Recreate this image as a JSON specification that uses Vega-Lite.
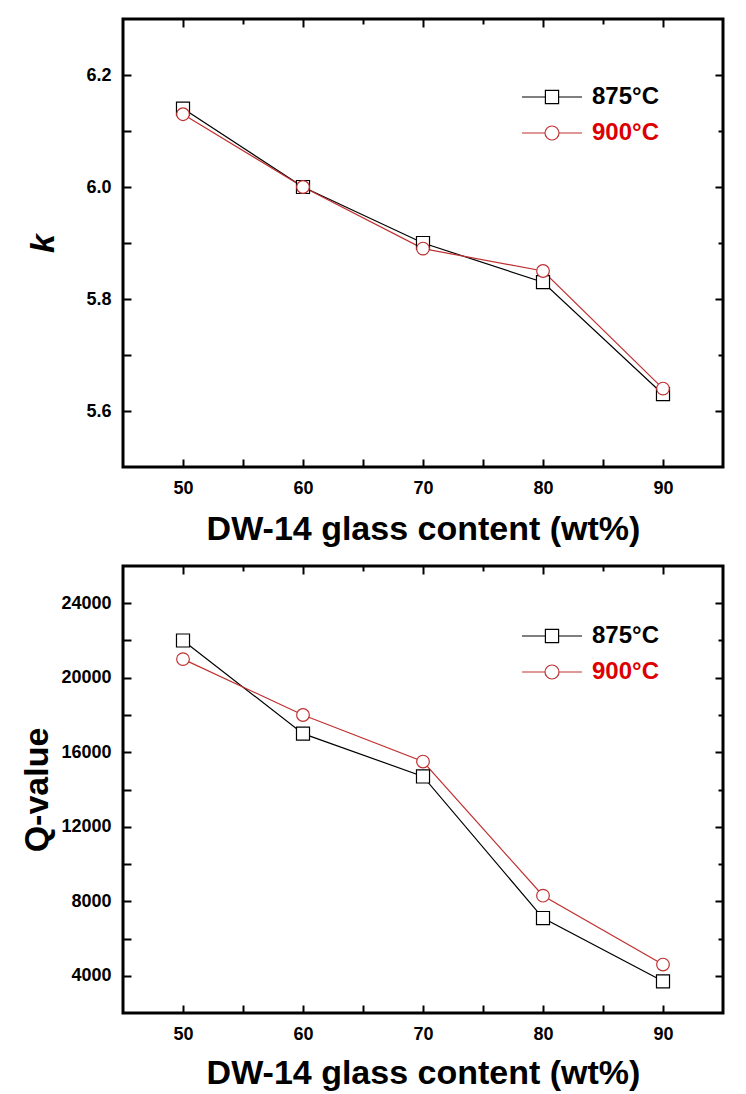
{
  "$schema": "https://vega.github.io/schema/vega-lite/v6.json",
  "padding": {"left": 19, "top": 16, "right": 20, "bottom": 5},
  "spacing": 15,
  "resolve": {"scale": {"color": "independent"}, "legend": {"color": "independent"}},
  "config": {
    "view": {"stroke": "black", "strokeWidth": 3},
    "font": "Liberation Sans",
    "axis": {
      "grid": false,
      "domain": false,
      "labelFont": "Liberation Sans",
      "labelFontWeight": "bold",
      "labelFontSize": 18,
      "labelColor": "black",
      "tickColor": "black",
      "tickWidth": 2,
      "titleFont": "Liberation Sans",
      "titleFontWeight": "bold",
      "titleFontSize": 34,
      "titleColor": "black"
    },
    "legend": {
      "orient": "none",
      "title": null,
      "padding": 0,
      "symbolSize": 1600,
      "symbolStrokeWidth": 1.2,
      "labelFont": "Liberation Sans",
      "labelFontWeight": "bold",
      "labelFontSize": 24,
      "labelOffset": 19,
      "rowPadding": 3
    }
  },
  "datasets": {
    "kdata": [
      {"content": 50, "series": "875°C", "k": 6.14},
      {"content": 60, "series": "875°C", "k": 6.00},
      {"content": 70, "series": "875°C", "k": 5.90},
      {"content": 80, "series": "875°C", "k": 5.83},
      {"content": 90, "series": "875°C", "k": 5.63},
      {"content": 50, "series": "900°C", "k": 6.13},
      {"content": 60, "series": "900°C", "k": 6.00},
      {"content": 70, "series": "900°C", "k": 5.89},
      {"content": 80, "series": "900°C", "k": 5.85},
      {"content": 90, "series": "900°C", "k": 5.64}
    ],
    "qdata": [
      {"content": 50, "series": "875°C", "q": 22000},
      {"content": 60, "series": "875°C", "q": 17000},
      {"content": 70, "series": "875°C", "q": 14700},
      {"content": 80, "series": "875°C", "q": 7100},
      {"content": 90, "series": "875°C", "q": 3700},
      {"content": 50, "series": "900°C", "q": 21000},
      {"content": 60, "series": "900°C", "q": 18000},
      {"content": 70, "series": "900°C", "q": 15500},
      {"content": 80, "series": "900°C", "q": 8300},
      {"content": 90, "series": "900°C", "q": 4600}
    ]
  },
  "vconcat": [
    {
      "width": 600,
      "height": 448,
      "data": {"name": "kdata"},
      "layer": [
        {
          "mark": {"type": "line", "strokeWidth": 1.2},
          "encoding": {
            "x": {"field": "content", "type": "quantitative",
                  "scale": {"domain": [45, 95], "nice": false, "zero": false},
                  "axis": {"orient": "bottom", "title": "DW-14 glass content (wt%)",
                           "values": [50, 55, 60, 65, 70, 75, 80, 85, 90],
                           "labelExpr": "datum.value % 10 === 0 ? datum.label : ''",
                           "tickSize": -8, "labelPadding": 20, "titlePadding": 15}},
            "y": {"field": "k", "type": "quantitative",
                  "scale": {"domain": [5.5, 6.3], "nice": false, "zero": false},
                  "axis": {"orient": "left", "title": "k", "titleFontStyle": "italic",
                           "values": [5.6, 5.7, 5.8, 5.9, 6.0, 6.1, 6.2],
                           "format": ".1f",
                           "labelExpr": "round(datum.value * 10) % 2 === 0 ? datum.label : ''",
                           "tickSize": -8, "labelPadding": 20, "titlePadding": 25}},
            "color": {"field": "series", "type": "nominal",
                      "scale": {"domain": ["875°C", "900°C"], "range": ["#000000", "#c03030"]},
                      "legend": {
                        "legendX": 408, "legendY": 57,
                        "encoding": {
                          "symbols": {
                            "shape": {"condition": {"test": "datum.value === '875°C'", "value": "M-1.5,0H-0.33M0.33,0H1.5M-0.33,-0.33H0.33V0.33H-0.33Z"},
                                      "value": "M-1.5,0H-0.35M0.35,0H1.5M-0.35,0A0.35,0.35 0 1,0 0.35,0A0.35,0.35 0 1,0 -0.35,0Z"},
                            "fill": {"value": "white"},
                            "fillOpacity": {"value": 1}
                          },
                          "labels": {
                            "fill": {"condition": {"test": "datum.value === '900°C'", "value": "#dd0000"}, "value": "#000000"}
                          }
                        }
                      }}
          }
        },
        {
          "transform": [{"filter": "datum.series === '875°C'"}],
          "mark": {"type": "point", "shape": "square", "fill": "white", "filled": false, "fillOpacity": 1, "opacity": 1, "stroke": "#000000", "strokeWidth": 1.2, "size": 170},
          "encoding": {
            "x": {"field": "content", "type": "quantitative", "axis": null},
            "y": {"field": "k", "type": "quantitative", "axis": null}
          }
        },
        {
          "transform": [{"filter": "datum.series === '900°C'"}],
          "mark": {"type": "point", "shape": "circle", "fill": "white", "filled": false, "fillOpacity": 1, "opacity": 1, "stroke": "#c03030", "strokeWidth": 1.2, "size": 160},
          "encoding": {
            "x": {"field": "content", "type": "quantitative", "axis": null},
            "y": {"field": "k", "type": "quantitative", "axis": null}
          }
        },
        {
          "mark": {"type": "point", "opacity": 0},
          "encoding": {
            "x": {"field": "content", "type": "quantitative",
                  "axis": {"orient": "top", "title": null, "labels": false,
                           "values": [50, 55, 60, 65, 70, 75, 80, 85, 90],
                           "tickSize": {"condition": {"test": "datum.value % 10 === 0", "value": -8}, "value": -5}}},
            "y": {"field": "k", "type": "quantitative",
                  "axis": {"orient": "right", "title": null, "labels": false,
                           "values": [5.6, 5.7, 5.8, 5.9, 6.0, 6.1, 6.2],
                           "tickSize": {"condition": {"test": "round(datum.value * 10) % 2 === 0", "value": -8}, "value": -5}}}
          }
        }
      ],
      "resolve": {"axis": {"x": "independent", "y": "independent"}}
    },
    {
      "width": 600,
      "height": 447,
      "data": {"name": "qdata"},
      "layer": [
        {
          "mark": {"type": "line", "strokeWidth": 1.2},
          "encoding": {
            "x": {"field": "content", "type": "quantitative",
                  "scale": {"domain": [45, 95], "nice": false, "zero": false},
                  "axis": {"orient": "bottom", "title": "DW-14 glass content (wt%)",
                           "values": [50, 55, 60, 65, 70, 75, 80, 85, 90],
                           "labelExpr": "datum.value % 10 === 0 ? datum.label : ''",
                           "tickSize": -8, "labelPadding": 20, "titlePadding": 13}},
            "y": {"field": "q", "type": "quantitative",
                  "scale": {"domain": [2000, 26000], "nice": false, "zero": false},
                  "axis": {"orient": "left", "title": "Q-value",
                           "values": [4000, 6000, 8000, 10000, 12000, 14000, 16000, 18000, 20000, 22000, 24000],
                           "format": "d",
                           "labelExpr": "datum.value % 4000 === 0 ? datum.label : ''",
                           "tickSize": -8, "labelPadding": 20, "titlePadding": 6}},
            "color": {"field": "series", "type": "nominal",
                      "scale": {"domain": ["875°C", "900°C"], "range": ["#000000", "#c03030"]},
                      "legend": {
                        "legendX": 408, "legendY": 49,
                        "encoding": {
                          "symbols": {
                            "shape": {"condition": {"test": "datum.value === '875°C'", "value": "M-1.5,0H-0.33M0.33,0H1.5M-0.33,-0.33H0.33V0.33H-0.33Z"},
                                      "value": "M-1.5,0H-0.35M0.35,0H1.5M-0.35,0A0.35,0.35 0 1,0 0.35,0A0.35,0.35 0 1,0 -0.35,0Z"},
                            "fill": {"value": "white"},
                            "fillOpacity": {"value": 1}
                          },
                          "labels": {
                            "fill": {"condition": {"test": "datum.value === '900°C'", "value": "#dd0000"}, "value": "#000000"}
                          }
                        }
                      }}
          }
        },
        {
          "transform": [{"filter": "datum.series === '875°C'"}],
          "mark": {"type": "point", "shape": "square", "fill": "white", "filled": false, "fillOpacity": 1, "opacity": 1, "stroke": "#000000", "strokeWidth": 1.2, "size": 170},
          "encoding": {
            "x": {"field": "content", "type": "quantitative", "axis": null},
            "y": {"field": "q", "type": "quantitative", "axis": null}
          }
        },
        {
          "transform": [{"filter": "datum.series === '900°C'"}],
          "mark": {"type": "point", "shape": "circle", "fill": "white", "filled": false, "fillOpacity": 1, "opacity": 1, "stroke": "#c03030", "strokeWidth": 1.2, "size": 160},
          "encoding": {
            "x": {"field": "content", "type": "quantitative", "axis": null},
            "y": {"field": "q", "type": "quantitative", "axis": null}
          }
        },
        {
          "mark": {"type": "point", "opacity": 0},
          "encoding": {
            "x": {"field": "content", "type": "quantitative",
                  "axis": {"orient": "top", "title": null, "labels": false,
                           "values": [50, 55, 60, 65, 70, 75, 80, 85, 90],
                           "tickSize": {"condition": {"test": "datum.value % 10 === 0", "value": -8}, "value": -5}}},
            "y": {"field": "q", "type": "quantitative",
                  "axis": {"orient": "right", "title": null, "labels": false,
                           "values": [4000, 6000, 8000, 10000, 12000, 14000, 16000, 18000, 20000, 22000, 24000],
                           "tickSize": {"condition": {"test": "datum.value % 4000 === 0", "value": -8}, "value": -5}}}
          }
        }
      ],
      "resolve": {"axis": {"x": "independent", "y": "independent"}}
    }
  ]
}
